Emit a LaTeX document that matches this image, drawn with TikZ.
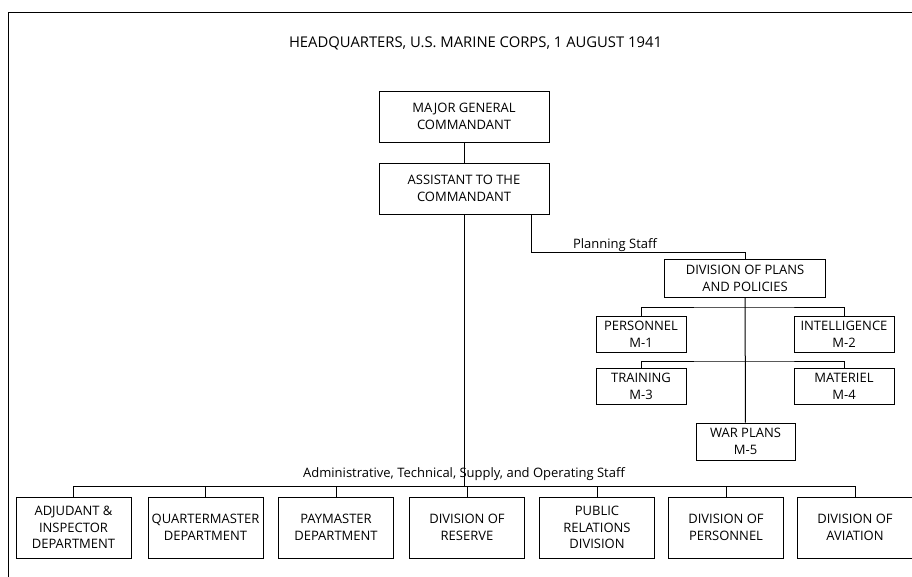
\documentclass[tikz,border=0pt]{standalone}
\usepackage{fontspec}
\setmainfont{Open Sans}
\tikzset{
  unit/.style={draw, line width=1pt, align=center, inner sep=1pt, font=\fontsize{13}{16.7}\selectfont},
  wide/.style={unit, minimum width=170pt, minimum height=51pt},
  mbox/.style={unit, minimum height=36pt},
  dept/.style={unit, minimum width=115pt, minimum height=61pt},
  lbl/.style={font=\fontsize{13}{15}\selectfont, inner sep=0pt, anchor=base}
}
\begin{document}
\begin{tikzpicture}[x=1pt,y=-1pt,line width=1pt]
\useasboundingbox (0,0) rectangle (912,576);
\draw (8,12) rectangle (930,600);
\node [lbl, font=\fontsize{14.8}{16}\selectfont] (title) at (475.5,47) {HEADQUARTERS, U.S. MARINE CORPS, 1 AUGUST 1941};
\node [wide] (mgc) at (464,116.5) {MAJOR GENERAL\\COMMANDANT};
\node [wide] (asst) at (464,188.5) {ASSISTANT TO THE\\COMMANDANT};
\draw (mgc) -- (asst);
% planning staff
\node [unit, minimum width=161pt, minimum height=38pt] (dpp) at (745,278) {DIVISION OF PLANS\\AND POLICIES};
\node [mbox, minimum width=90pt] (pers) at (641,334) {PERSONNEL\\M-1};
\node [mbox, minimum width=100pt] (intel) at (844,334) {INTELLIGENCE\\M-2};
\node [mbox, minimum width=90pt] (trng) at (641,386.5) {TRAINING\\M-3};
\node [mbox, minimum width=100pt] (matr) at (844,386.5) {MATERIEL\\M-4};
\node [mbox, minimum width=99pt, minimum height=37pt] (war) at (745.5,441.5) {WAR PLANS\\M-5};
\coordinate (plan) at (531,252);
\coordinate (m1) at (745,307);
\coordinate (m3) at (745,361);
\draw ([xshift=67pt]asst.south) -- (plan) -| (dpp.north);
\node [lbl] (planlbl) at (615,248) {Planning Staff};
\draw (dpp) -- (war);
\draw (pers.north) |- (m1) -| (intel.north);
\draw (trng.north) |- (m3) -| (matr.north);
% administrative staff
\foreach \name/\x/\txt in {b1/73.5/{ADJUDANT \&\\INSPECTOR\\DEPARTMENT}, b2/205.5/{QUARTERMASTER\\DEPARTMENT},
  b3/336/{PAYMASTER\\DEPARTMENT}, b4/467/{DIVISION OF\\RESERVE}, b5/597/{PUBLIC\\RELATIONS\\DIVISION},
  b6/726/{DIVISION OF\\PERSONNEL}, b7/855/{DIVISION OF\\AVIATION}}
  {\node [dept] (\name) at (\x,527.5) {\txt};}
\coordinate (bus) at (464,486);
\draw (asst) -- (asst |- bus);
\draw (b1.north |- bus) -- (b7.north |- bus);
\foreach \i in {1,...,7} {\draw (b\i.north) -- (b\i.north |- bus);}
\node [lbl] (buslbl) at (464,477) {Administrative, Technical, Supply, and Operating Staff};
\end{tikzpicture}
\end{document}
